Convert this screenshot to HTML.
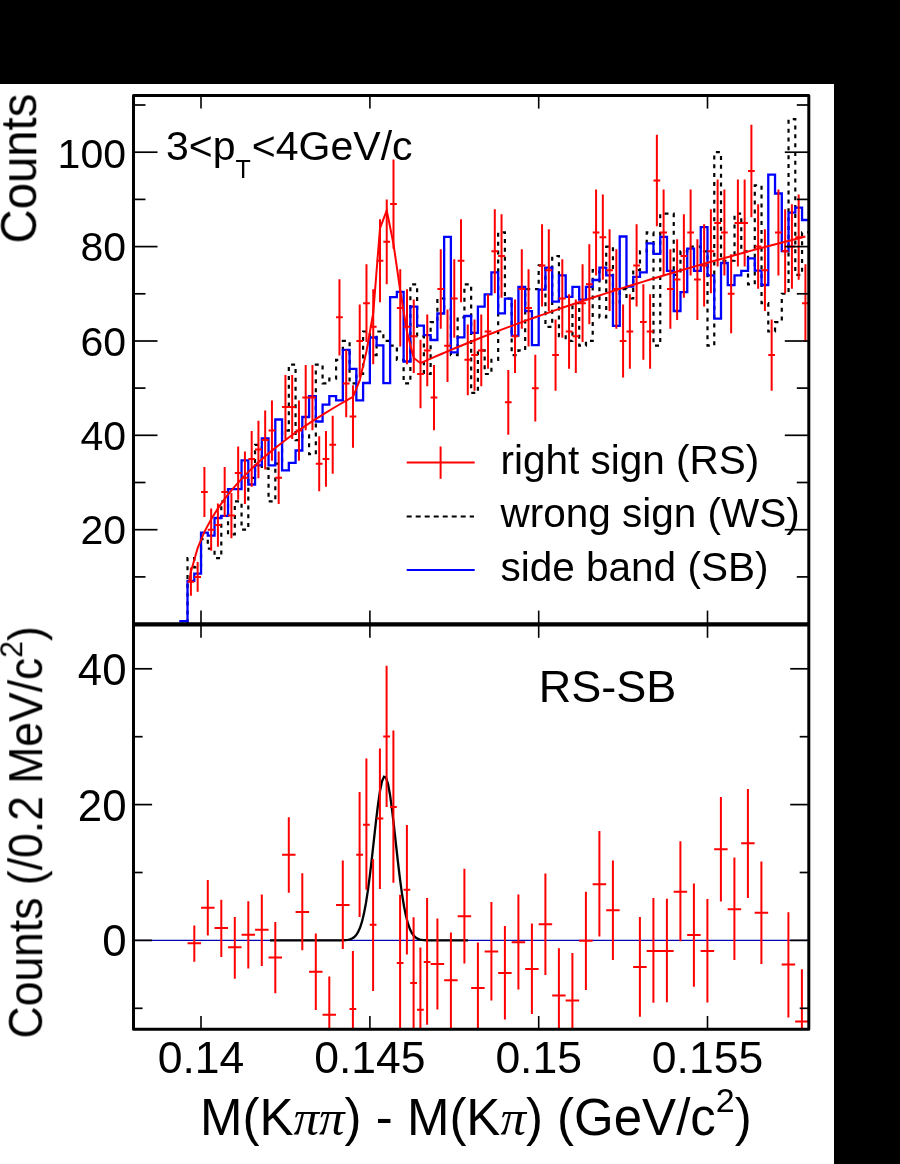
<!DOCTYPE html>
<html><head><meta charset="utf-8"><style>
html,body{margin:0;padding:0;background:#fff;}
body{width:900px;height:1164px;overflow:hidden;font-family:"Liberation Sans",sans-serif;}
svg{display:block;}
</style></head><body>
<svg width="900" height="1164" viewBox="0 0 900 1164">
<rect x="0" y="0" width="900" height="84" fill="#000"/>
<rect x="834" y="0" width="66" height="1164" fill="#000"/>
<defs><clipPath id="cu"><rect x="133.5" y="95.6" width="675.3" height="528.8"/></clipPath><clipPath id="cl"><rect x="133.5" y="624.4" width="675.3" height="404.8"/></clipPath></defs>
<g clip-path="url(#cu)">
<path d="M179.47,624.10 V624.10 H187.52 V558.03 H194.28 V567.47 H201.03 V539.16 H207.78 V548.60 H214.54 V558.03 H221.29 V501.41 H228.04 V534.44 H234.80 V501.41 H241.55 V529.72 H248.30 V477.81 H255.05 V444.78 H261.81 V468.37 H268.56 V501.41 H275.31 V463.65 H282.07 V430.62 H288.82 V364.56 H295.57 V440.06 H302.32 V435.34 H309.08 V454.22 H315.83 V364.56 H322.58 V383.43 H329.34 V378.71 H336.09 V359.84 H342.84 V340.96 H349.60 V383.43 H356.35 V373.99 H363.10 V331.52 H369.86 V355.12 H376.61 V331.52 H383.36 V340.96 H390.11 V345.68 H396.87 V359.84 H403.62 V383.43 H410.37 V284.33 H417.13 V336.24 H423.88 V373.99 H430.63 V322.08 H437.38 V298.49 H444.14 V307.93 H450.89 V355.12 H457.64 V317.37 H464.40 V284.33 H471.15 V392.87 H477.90 V350.40 H484.66 V373.99 H491.41 V359.84 H498.16 V232.42 H504.92 V298.49 H511.67 V355.12 H518.42 V350.40 H525.17 V289.05 H531.93 V289.05 H538.68 V265.46 H545.43 V326.80 H552.19 V256.02 H558.94 V336.24 H565.69 V340.96 H572.44 V303.21 H579.20 V345.68 H585.95 V340.96 H592.70 V270.18 H599.46 V317.37 H606.21 V246.58 H612.96 V303.21 H619.72 V289.05 H626.47 V298.49 H633.22 V270.18 H639.98 V251.30 H646.73 V232.42 H653.48 V345.68 H660.23 V213.55 H666.99 V213.55 H673.74 V274.89 H680.49 V251.30 H687.25 V246.58 H694.00 V246.58 H700.75 V251.30 H707.50 V345.68 H714.26 V152.20 H721.01 V260.74 H727.76 V260.74 H734.52 V213.55 H741.27 V251.30 H748.02 V284.33 H754.78 V185.23 H761.53 V303.21 H768.28 V331.52 H775.03 V322.08 H781.79 V293.77 H788.54 V119.17 H795.29 V274.89 H802.05 V232.42 H808.80" fill="none" stroke="#000" stroke-width="2.2" stroke-dasharray="4,4.85"/>
<path d="M179.47,621.20 V621.20 H187.52 V580.80 H194.28 V573.60 H201.03 V532.60 H207.78 V535.60 H214.54 V518.00 H221.29 V515.80 H228.04 V489.20 H234.80 V489.20 H241.55 V460.40 H248.30 V484.50 H255.05 V465.40 H261.81 V438.30 H268.56 V465.40 H275.31 V419.50 H282.07 V470.30 H288.82 V462.80 H295.57 V450.50 H302.32 V417.00 H309.08 V396.20 H315.83 V421.50 H322.58 V404.70 H329.34 V396.20 H336.09 V400.40 H342.84 V349.80 H349.60 V368.80 H356.35 V400.40 H363.10 V383.00 H369.86 V337.50 H376.61 V345.30 H383.36 V383.20 H390.11 V297.10 H396.87 V291.80 H403.62 V361.50 H410.37 V306.60 H417.13 V325.70 H423.88 V335.20 H430.63 V340.00 H437.38 V313.50 H444.14 V236.80 H450.89 V352.40 H457.64 V337.40 H464.40 V316.00 H471.15 V332.80 H477.90 V306.60 H484.66 V294.30 H491.41 V272.30 H498.16 V313.30 H504.92 V298.60 H511.67 V335.60 H518.42 V287.00 H525.17 V311.20 H531.93 V345.20 H538.68 V289.70 H545.43 V267.70 H552.19 V301.60 H558.94 V275.30 H565.69 V296.80 H572.44 V286.80 H579.20 V299.70 H585.95 V286.80 H592.70 V280.00 H599.46 V267.60 H606.21 V275.30 H612.96 V325.90 H619.72 V236.50 H626.47 V286.50 H633.22 V276.90 H639.98 V272.30 H646.73 V243.40 H653.48 V253.80 H660.23 V236.90 H666.99 V270.80 H673.74 V311.00 H680.49 V292.20 H687.25 V248.60 H694.00 V270.80 H700.75 V227.10 H707.50 V275.30 H714.26 V318.70 H721.01 V263.00 H727.76 V285.20 H734.52 V275.40 H741.27 V270.80 H748.02 V258.40 H754.78 V270.60 H761.53 V285.00 H768.28 V174.60 H775.03 V193.50 H781.79 V251.20 H788.54 V212.70 H795.29 V207.60 H802.05 V220.00 H808.80" fill="none" stroke="#00f" stroke-width="2.3"/>
<path d="M190.90,567.47 V595.79 M187.52,581.63 H194.28 M197.65,561.99 V591.83 M194.28,576.91 H201.03 M204.41,467.00 V516.94 M201.03,491.97 H207.78 M211.16,508.62 V550.82 M207.78,529.72 H214.54 M217.91,503.38 V546.63 M214.54,525.00 H221.29 M224.67,467.00 V516.94 M221.29,491.97 H228.04 M231.42,492.93 V538.19 M228.04,515.56 H234.80 M238.17,446.40 V499.79 M234.80,473.09 H241.55 M244.92,451.54 V504.09 M241.55,477.81 H248.30 M251.68,431.02 V486.85 M248.30,458.94 H255.05 M258.43,420.79 V478.20 M255.05,449.50 H261.81 M265.18,410.59 V469.53 M261.81,440.06 H268.56 M271.94,400.40 V460.84 M268.56,430.62 H275.31 M278.69,451.54 V504.09 M275.31,477.81 H282.07 M285.44,375.02 V439.03 M282.07,407.03 H288.82 M292.20,375.02 V439.03 M288.82,407.03 H295.57 M298.95,400.40 V460.84 M295.57,430.62 H302.32 M305.70,364.89 V430.28 M302.32,397.59 H309.08 M312.45,364.89 V430.28 M309.08,397.59 H315.83 M319.21,436.14 V491.17 M315.83,463.65 H322.58 M325.96,431.02 V486.85 M322.58,458.94 H329.34 M332.71,415.69 V473.87 M329.34,444.78 H336.09 M339.47,279.32 V355.41 M336.09,317.37 H342.84 M346.22,349.73 V417.13 M342.84,383.43 H349.60 M352.97,385.16 V447.77 M349.60,416.46 H356.35 M359.73,304.41 V377.51 M356.35,340.96 H363.10 M366.48,264.29 V342.12 M363.10,303.21 H369.86 M373.23,289.35 V364.26 M369.86,326.80 H376.61 M379.98,219.33 V302.15 M376.61,260.74 H383.36 M386.74,199.39 V284.33 M383.36,241.86 H390.11 M393.49,159.59 V248.63 M390.11,204.11 H396.87 M400.24,269.30 V346.55 M396.87,307.93 H403.62 M407.00,289.35 V364.26 M403.62,326.80 H410.37 M413.75,299.38 V373.10 M410.37,336.24 H417.13 M420.50,339.64 V408.35 M417.13,373.99 H423.88 M427.26,314.46 V386.34 M423.88,350.40 H430.63 M434.01,364.89 V430.28 M430.63,397.59 H437.38 M440.76,249.29 V328.81 M437.38,289.05 H444.14 M447.51,309.43 V381.93 M444.14,345.68 H450.89 M454.27,259.29 V337.69 M450.89,298.49 H457.64 M461.02,219.33 V302.15 M457.64,260.74 H464.40 M467.77,324.52 V395.15 M464.40,359.84 H471.15 M474.53,319.49 V390.74 M471.15,355.12 H477.90 M481.28,314.46 V386.34 M477.90,350.40 H484.66 M488.03,294.36 V368.68 M484.66,331.52 H491.41 M494.79,209.36 V293.24 M491.41,251.30 H498.16 M501.54,214.34 V297.70 M498.16,256.02 H504.92 M508.29,369.96 V434.66 M504.92,402.31 H511.67 M515.04,299.38 V373.10 M511.67,336.24 H518.42 M521.80,249.29 V328.81 M518.42,289.05 H525.17 M528.55,269.30 V346.55 M525.17,307.93 H531.93 M535.30,354.78 V421.52 M531.93,388.15 H538.68 M542.06,224.32 V306.60 M538.68,265.46 H545.43 M548.81,229.31 V311.04 M545.43,270.18 H552.19 M555.56,319.49 V390.74 M552.19,355.12 H558.94 M562.32,259.29 V337.69 M558.94,298.49 H565.69 M569.07,294.36 V368.68 M565.69,331.52 H572.44 M575.82,299.38 V373.10 M572.44,336.24 H579.20 M582.57,264.29 V342.12 M579.20,303.21 H585.95 M589.33,244.29 V324.37 M585.95,284.33 H592.70 M596.08,189.43 V275.42 M592.70,232.42 H599.46 M602.83,194.41 V279.87 M599.46,237.14 H606.21 M609.59,229.31 V311.04 M606.21,270.18 H612.96 M616.34,249.29 V328.81 M612.96,289.05 H619.72 M623.09,304.41 V377.51 M619.72,340.96 H626.47 M629.85,294.36 V368.68 M626.47,331.52 H633.22 M636.60,224.32 V306.60 M633.22,265.46 H639.98 M643.35,284.33 V359.84 M639.98,322.08 H646.73 M650.10,294.36 V368.68 M646.73,331.52 H653.48 M656.86,134.76 V226.27 M653.48,180.51 H660.23 M663.61,189.43 V275.42 M660.23,232.42 H666.99 M670.36,249.29 V328.81 M666.99,289.05 H673.74 M677.12,239.29 V319.93 M673.74,279.61 H680.49 M683.87,214.34 V297.70 M680.49,256.02 H687.25 M690.62,189.43 V275.42 M687.25,232.42 H694.00 M697.38,239.29 V319.93 M694.00,279.61 H700.75 M704.13,224.32 V306.60 M700.75,265.46 H707.50 M710.88,209.36 V293.24 M707.50,251.30 H714.26 M717.63,179.48 V266.49 M714.26,222.99 H721.01 M724.39,189.43 V275.42 M721.01,232.42 H727.76 M731.14,254.29 V333.25 M727.76,293.77 H734.52 M737.89,179.48 V266.49 M734.52,222.99 H741.27 M744.65,179.48 V266.49 M741.27,222.99 H748.02 M751.40,124.84 V217.31 M748.02,171.08 H754.78 M758.15,204.37 V288.79 M754.78,246.58 H761.53 M764.91,229.31 V311.04 M761.53,270.18 H768.28 M771.66,319.49 V390.74 M768.28,355.12 H775.03 M778.41,189.43 V275.42 M775.03,232.42 H781.79 M785.16,209.36 V293.24 M781.79,251.30 H788.54 M791.92,204.37 V288.79 M788.54,246.58 H795.29 M798.67,194.41 V279.87 M795.29,237.14 H802.05 M805.42,264.29 V342.12 M802.05,303.21 H808.80 " fill="none" stroke="#f00" stroke-width="2"/>
<polyline points="189.3,580.55 190.90,571.82 197.65,547.96 204.41,531.90 211.16,519.17 217.91,508.38 224.67,498.90 231.42,490.37 238.17,482.58 244.92,475.37 251.68,468.64 258.43,462.31 265.18,456.33 271.94,450.64 278.69,445.22 285.44,440.03 292.20,435.04 298.95,430.24 305.70,425.61 312.45,421.13 319.21,416.79 325.96,412.58 332.71,408.48 339.47,404.50 346.22,400.62 352.97,396.84 359.73,380.40 366.48,351.20 373.23,313.00 379.98,228.40 386.74,210.30 393.49,244.00 400.24,290.50 407.00,332.00 413.75,358.00 420.50,363.19 427.26,360.16 434.01,357.18 440.76,354.24 447.51,351.35 454.27,348.51 461.02,345.71 467.77,342.95 474.53,340.23 481.28,337.54 488.03,334.89 494.79,332.28 501.54,329.69 508.29,327.15 515.04,324.63 521.80,322.14 528.55,319.68 535.30,317.25 542.06,314.85 548.81,312.47 555.56,310.12 562.32,307.80 569.07,305.50 575.82,303.22 582.57,300.97 589.33,298.74 596.08,296.53 602.83,294.34 609.59,292.17 616.34,290.02 623.09,287.89 629.85,285.79 636.60,283.70 643.35,281.62 650.10,279.57 656.86,277.53 663.61,275.51 670.36,273.51 677.12,271.52 683.87,269.55 690.62,267.60 697.38,265.66 704.13,263.73 710.88,261.82 717.63,259.93 724.39,258.04 731.14,256.17 737.89,254.32 744.65,252.48 751.40,250.65 758.15,248.83 764.91,247.03 771.66,245.24 778.41,243.46 785.16,241.69 791.92,239.93 798.67,238.19 805.42,236.45" fill="none" stroke="#f00" stroke-width="2"/>
</g>
<g clip-path="url(#cl)">
<line x1="133.5" y1="940.4" x2="808.8" y2="940.4" stroke="#0000b4" stroke-width="1.3"/>
<polyline points="270.00,940.40 272.00,940.40 274.00,940.40 276.00,940.40 278.00,940.40 280.00,940.40 282.00,940.40 284.00,940.40 286.00,940.40 288.00,940.40 290.00,940.40 292.00,940.40 294.00,940.40 296.00,940.40 298.00,940.40 300.00,940.40 302.00,940.40 304.00,940.40 306.00,940.40 308.00,940.40 310.00,940.40 312.00,940.40 314.00,940.40 316.00,940.40 318.00,940.40 320.00,940.40 322.00,940.40 324.00,940.40 326.00,940.40 328.00,940.40 330.00,940.40 332.00,940.40 334.00,940.40 336.00,940.39 338.00,940.38 340.00,940.36 342.00,940.32 344.00,940.25 346.00,940.10 348.00,939.83 350.00,939.37 352.00,938.58 354.00,937.29 356.00,935.28 358.00,932.24 360.00,927.82 362.00,921.65 364.00,913.38 366.00,902.75 368.00,889.69 370.00,874.35 372.00,857.21 374.00,839.10 376.00,821.14 378.00,804.63 380.00,790.96 382.00,781.35 384.00,776.74 386.00,777.56 388.00,783.75 390.00,794.69 392.00,809.35 394.00,826.44 396.00,844.58 398.00,862.50 400.00,879.16 402.00,893.86 404.00,906.20 406.00,916.10 408.00,923.70 410.00,929.31 412.00,933.28 414.00,935.98 416.00,937.74 418.00,938.86 420.00,939.53 422.00,939.93 424.00,940.15 426.00,940.27 428.00,940.34 430.00,940.37 432.00,940.39 434.00,940.39 436.00,940.40 438.00,940.40 440.00,940.40 442.00,940.40 444.00,940.40 446.00,940.40 448.00,940.40 450.00,940.40 452.00,940.40 454.00,940.40 456.00,940.40 458.00,940.40 460.00,940.40 462.00,940.40 464.00,940.40 466.00,940.40 468.00,940.40" fill="none" stroke="#000" stroke-width="2.3"/>
<path d="M194.30,925.50 V961.70 M187.55,943.30 H201.05 M207.80,880.00 V935.40 M201.05,907.70 H214.55 M221.30,899.80 V957.10 M214.55,928.00 H228.05 M234.80,917.00 V978.80 M228.05,947.20 H241.55 M248.30,901.20 V968.40 M241.55,934.80 H255.05 M261.80,894.50 V966.00 M255.05,929.80 H268.55 M275.30,922.10 V993.30 M268.55,957.50 H282.05 M288.80,817.20 V892.70 M282.05,854.80 H295.55 M302.30,873.20 V950.20 M295.55,912.00 H309.05 M315.80,933.60 V1010.00 M309.05,971.80 H322.55 M329.30,976.60 V1053.00 M322.55,1014.80 H336.05 M342.80,860.40 V948.90 M336.05,905.00 H349.55 M352.90,951.10 V1067.00 M349.52,1009.00 H356.28 M359.60,792.00 V917.10 M356.22,854.70 H362.98 M366.40,758.60 V889.70 M363.02,824.80 H369.78 M373.10,858.90 V990.90 M369.72,924.70 H376.48 M379.90,748.50 V889.10 M376.52,818.40 H383.28 M386.60,665.70 V807.00 M383.22,736.40 H389.98 M393.40,730.60 V882.70 M390.02,807.00 H396.78 M400.10,894.80 V1031.00 M396.72,962.90 H403.48 M406.90,825.00 V954.60 M403.52,889.80 H410.28 M413.60,917.30 V1048.00 M410.22,983.00 H416.98 M420.40,947.50 V1072.00 M417.02,1009.80 H423.78 M427.10,898.10 V1024.80 M423.72,962.10 H430.48 M437.40,918.50 V1009.40 M430.65,963.90 H444.15 M450.90,932.50 V1028.00 M444.15,980.20 H457.65 M464.40,868.70 V963.60 M457.65,916.20 H471.15 M477.90,942.60 V1033.00 M471.15,987.90 H484.65 M491.40,902.00 V1000.60 M484.65,951.40 H498.15 M504.90,926.00 V1019.50 M498.15,972.90 H511.65 M518.40,894.50 V989.40 M511.65,942.20 H525.15 M531.90,923.50 V1014.10 M525.15,969.00 H538.65 M545.40,873.40 V975.00 M538.65,924.30 H552.15 M558.90,948.20 V1042.00 M552.15,995.40 H565.65 M572.40,952.90 V1048.00 M565.65,1000.60 H579.15 M585.90,891.70 V990.00 M579.15,940.70 H592.65 M599.40,831.10 V936.40 M592.65,884.20 H606.15 M612.90,860.50 V960.00 M606.15,910.20 H619.65 M639.90,917.00 V1016.70 M633.15,966.90 H646.65 M653.40,898.10 V1002.70 M646.65,951.00 H660.15 M666.90,898.80 V1002.30 M660.15,951.00 H673.65 M680.40,841.20 V941.20 M673.65,891.80 H687.15 M693.90,883.40 V986.70 M687.15,935.00 H700.65 M707.40,899.10 V1002.60 M700.65,951.00 H714.15 M720.90,796.90 V901.60 M714.15,849.20 H727.65 M734.40,857.60 V960.10 M727.65,909.30 H741.15 M747.90,788.90 V897.90 M741.15,843.30 H754.65 M761.40,861.50 V963.90 M754.65,912.70 H768.15 M788.40,912.30 V1017.40 M781.65,964.60 H795.15 M801.90,969.20 V1074.00 M795.15,1021.50 H808.65 " fill="none" stroke="#f00" stroke-width="2"/>
</g>
<line x1="179.4" y1="621.4" x2="187.8" y2="621.4" stroke="#00f" stroke-width="2"/>
<g stroke="#000" fill="none">
<path d="M133.5,95.6 H808.8 V1029.2 H133.5 Z" stroke-width="3" stroke-linejoin="round"/>
<line x1="133.5" y1="624.4" x2="808.8" y2="624.4" stroke-width="4.4"/>
<line x1="201.0" y1="95.6" x2="201.0" y2="108.6" stroke-width="1.6"/>
<line x1="201.0" y1="610.6" x2="201.0" y2="637.8" stroke-width="1.6"/>
<line x1="201.0" y1="1016" x2="201.0" y2="1029.2" stroke-width="1.6"/>
<line x1="369.9" y1="95.6" x2="369.9" y2="108.6" stroke-width="1.6"/>
<line x1="369.9" y1="610.6" x2="369.9" y2="637.8" stroke-width="1.6"/>
<line x1="369.9" y1="1016" x2="369.9" y2="1029.2" stroke-width="1.6"/>
<line x1="538.7" y1="95.6" x2="538.7" y2="108.6" stroke-width="1.6"/>
<line x1="538.7" y1="610.6" x2="538.7" y2="637.8" stroke-width="1.6"/>
<line x1="538.7" y1="1016" x2="538.7" y2="1029.2" stroke-width="1.6"/>
<line x1="707.5" y1="95.6" x2="707.5" y2="108.6" stroke-width="1.6"/>
<line x1="707.5" y1="610.6" x2="707.5" y2="637.8" stroke-width="1.6"/>
<line x1="707.5" y1="1016" x2="707.5" y2="1029.2" stroke-width="1.6"/>
<line x1="133.5" y1="576.9" x2="145.5" y2="576.9" stroke-width="1.7"/>
<line x1="808.8" y1="576.9" x2="796.8" y2="576.9" stroke-width="1.7"/>
<line x1="133.5" y1="529.7" x2="157.5" y2="529.7" stroke-width="1.7"/>
<line x1="808.8" y1="529.7" x2="784.8" y2="529.7" stroke-width="1.7"/>
<line x1="133.5" y1="482.5" x2="145.5" y2="482.5" stroke-width="1.7"/>
<line x1="808.8" y1="482.5" x2="796.8" y2="482.5" stroke-width="1.7"/>
<line x1="133.5" y1="435.3" x2="157.5" y2="435.3" stroke-width="1.7"/>
<line x1="808.8" y1="435.3" x2="784.8" y2="435.3" stroke-width="1.7"/>
<line x1="133.5" y1="388.1" x2="145.5" y2="388.1" stroke-width="1.7"/>
<line x1="808.8" y1="388.1" x2="796.8" y2="388.1" stroke-width="1.7"/>
<line x1="133.5" y1="341.0" x2="157.5" y2="341.0" stroke-width="1.7"/>
<line x1="808.8" y1="341.0" x2="784.8" y2="341.0" stroke-width="1.7"/>
<line x1="133.5" y1="293.8" x2="145.5" y2="293.8" stroke-width="1.7"/>
<line x1="808.8" y1="293.8" x2="796.8" y2="293.8" stroke-width="1.7"/>
<line x1="133.5" y1="246.6" x2="157.5" y2="246.6" stroke-width="1.7"/>
<line x1="808.8" y1="246.6" x2="784.8" y2="246.6" stroke-width="1.7"/>
<line x1="133.5" y1="199.4" x2="145.5" y2="199.4" stroke-width="1.7"/>
<line x1="808.8" y1="199.4" x2="796.8" y2="199.4" stroke-width="1.7"/>
<line x1="133.5" y1="152.2" x2="157.5" y2="152.2" stroke-width="1.7"/>
<line x1="808.8" y1="152.2" x2="784.8" y2="152.2" stroke-width="1.7"/>
<line x1="133.5" y1="105.0" x2="145.5" y2="105.0" stroke-width="1.7"/>
<line x1="808.8" y1="105.0" x2="796.8" y2="105.0" stroke-width="1.7"/>
<line x1="133.5" y1="1008.3" x2="142.6" y2="1008.3" stroke-width="1.7"/>
<line x1="808.8" y1="1008.3" x2="799.7" y2="1008.3" stroke-width="1.7"/>
<line x1="133.5" y1="940.4" x2="152.1" y2="940.4" stroke-width="1.7"/>
<line x1="808.8" y1="940.4" x2="790.2" y2="940.4" stroke-width="1.7"/>
<line x1="133.5" y1="872.5" x2="142.6" y2="872.5" stroke-width="1.7"/>
<line x1="808.8" y1="872.5" x2="799.7" y2="872.5" stroke-width="1.7"/>
<line x1="133.5" y1="804.6" x2="152.1" y2="804.6" stroke-width="1.7"/>
<line x1="808.8" y1="804.6" x2="790.2" y2="804.6" stroke-width="1.7"/>
<line x1="133.5" y1="736.7" x2="142.6" y2="736.7" stroke-width="1.7"/>
<line x1="808.8" y1="736.7" x2="799.7" y2="736.7" stroke-width="1.7"/>
<line x1="133.5" y1="668.8" x2="152.1" y2="668.8" stroke-width="1.7"/>
<line x1="808.8" y1="668.8" x2="790.2" y2="668.8" stroke-width="1.7"/>
</g>
<g font-family="Liberation Sans, sans-serif" fill="#000" style="filter:grayscale(1)"><text x="126" y="168.4" font-size="41" text-anchor="end">100</text><text x="126" y="261.2" font-size="41" text-anchor="end">80</text><text x="126" y="355.6" font-size="41" text-anchor="end">60</text><text x="126" y="449.9" font-size="41" text-anchor="end">40</text><text x="126" y="544.3" font-size="41" text-anchor="end">20</text><text x="126.5" y="684.8" font-size="43.8" text-anchor="end">40</text><text x="126.5" y="820.6" font-size="43.8" text-anchor="end">20</text><text x="126.5" y="956.4" font-size="43.8" text-anchor="end">0</text><text x="201.0" y="1073.3" font-size="44.5" text-anchor="middle">0.14</text><text x="369.9" y="1073.3" font-size="44.5" text-anchor="middle">0.145</text><text x="538.7" y="1073.3" font-size="44.5" text-anchor="middle">0.15</text><text x="707.5" y="1073.3" font-size="44.5" text-anchor="middle">0.155</text><text x="200" y="1134.8" font-size="51">M(K<tspan font-family="Liberation Serif" font-style="italic">&#960;&#960;</tspan>) - M(K<tspan font-family="Liberation Serif" font-style="italic">&#960;</tspan>) (GeV/c<tspan dy="-23" font-size="34">2</tspan><tspan dy="23">)</tspan></text><text transform="translate(36.5,243.5) rotate(-90) scale(1,1.05)" font-size="47.3">Counts</text><text transform="translate(42.6,1038.5) rotate(-90) scale(1,1.07)" font-size="44.5">Counts (/0.2 MeV/c<tspan dy="-19" font-size="30">2</tspan><tspan dy="19">)</tspan></text><text x="166" y="160.2" font-size="41">3&lt;p<tspan dy="18" font-size="25">T</tspan><tspan dy="-18" dx="1">&lt;4GeV/c</tspan></text><text x="538.8" y="702.2" font-size="45">RS-SB</text><text x="500.5" y="473.5" font-size="40.5">right sign (RS)</text><text x="500.5" y="527" font-size="40.5">wrong sign (WS)</text><text x="500.5" y="581" font-size="40.5">side band (SB)</text></g>
<line x1="406.7" y1="462.5" x2="474.7" y2="462.5" stroke="#f00" stroke-width="2"/>
<line x1="440.6" y1="446.5" x2="440.6" y2="478.8" stroke="#f00" stroke-width="2"/>
<line x1="406.7" y1="516.4" x2="474" y2="516.4" stroke="#000" stroke-width="2" stroke-dasharray="5,4"/>
<line x1="406.7" y1="570" x2="474.7" y2="570" stroke="#00f" stroke-width="2"/>
</svg>
</body></html>
